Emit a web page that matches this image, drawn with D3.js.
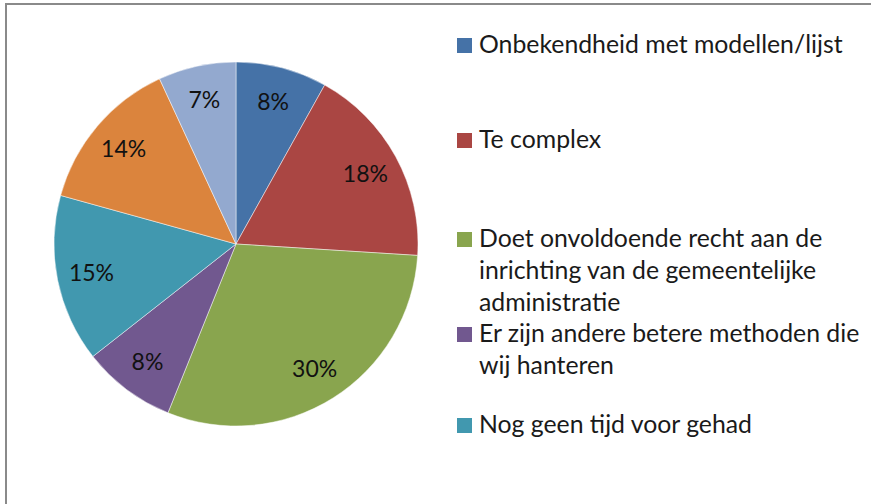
<!DOCTYPE html>
<html>
<head>
<meta charset="utf-8">
<script src="https://cdn.jsdelivr.net/npm/d3@7"></script>
<style>
  html, body { margin: 0; padding: 0; background: #fff; }
  svg { display: block; }
</style>
</head>
<body>
<div id="chart"></div>
<script>
// Slice values (percent), clockwise from 12 o'clock
const values = [8.1, 17.9, 30.1, 8.3, 14.9, 13.8, 6.9];
const sliceLabels = ['8%', '18%', '30%', '8%', '15%', '14%', '7%'];
const colors = ['#4572A7', '#AA4643', '#89A54E', '#71588F', '#4198AF', '#DB843D', '#93A9CF'];

// Legend entries visible in the frame (text split into lines as shown)
const legendLines = [
  ['Onbekendheid met modellen/lijst'],
  ['Te complex'],
  ['Doet onvoldoende recht aan de', 'inrichting van de gemeentelijke', 'administratie'],
  ['Er zijn andere betere methoden die', 'wij hanteren'],
  ['Nog geen tijd voor gehad']
];

const W = 871, H = 504;
const FONT = 'Lato, "Open Sans", sans-serif';

const svg = d3.select('#chart')
  .append('svg')
  .attr('width', W)
  .attr('height', H);

// Chart frame (top and left edges visible)
svg.append('path')
  .attr('d', `M6,${H} L6,4 L${W},4`)
  .attr('fill', 'none')
  .attr('stroke', '#8a8a8a')
  .attr('stroke-width', 2);

// Pie
const cx = 236, cy = 244, R = 182;
const pie = d3.pie().sort(null).value(d => d);
const arcs = pie(values);
const arc = d3.arc().innerRadius(0).outerRadius(R);
const labelArc = d3.arc().innerRadius(R * 0.81).outerRadius(R * 0.81);

const gPie = svg.append('g').attr('transform', `translate(${cx},${cy})`);

gPie.selectAll('path.slice')
  .data(arcs)
  .join('path')
  .attr('class', 'slice')
  .attr('d', arc)
  .attr('fill', (d, i) => colors[i])
  .attr('stroke', '#ffffff')
  .attr('stroke-opacity', 0.6)
  .attr('stroke-width', 0.8);

gPie.selectAll('text.lbl')
  .data(arcs)
  .join('text')
  .attr('class', 'lbl')
  .attr('transform', d => `translate(${labelArc.centroid(d)})`)
  .attr('text-anchor', 'middle')
  .attr('dy', '0.36em')
  .attr('font-family', FONT)
  .attr('font-size', 23)
  .attr('fill', '#111')
  .text((d, i) => sliceLabels[i]);

// Legend
const legendX = 457, textX = 479, lineH = 32;
const legendTop = [53, 148, 247, 342, 433]; // first-line baselines
const gLeg = svg.append('g');

legendLines.forEach((lines, i) => {
  const g = gLeg.append('g');
  g.append('rect')
    .attr('x', legendX)
    .attr('y', legendTop[i] - 15)
    .attr('width', 15)
    .attr('height', 15)
    .attr('fill', colors[i]);
  const t = g.append('text')
    .attr('font-family', FONT)
    .attr('font-size', 24.8)
    .attr('fill', '#1a1a1a');
  lines.forEach((ln, j) => {
    t.append('tspan')
      .attr('x', textX)
      .attr('y', legendTop[i] + j * lineH)
      .text(ln);
  });
});
</script>
</body>
</html>
